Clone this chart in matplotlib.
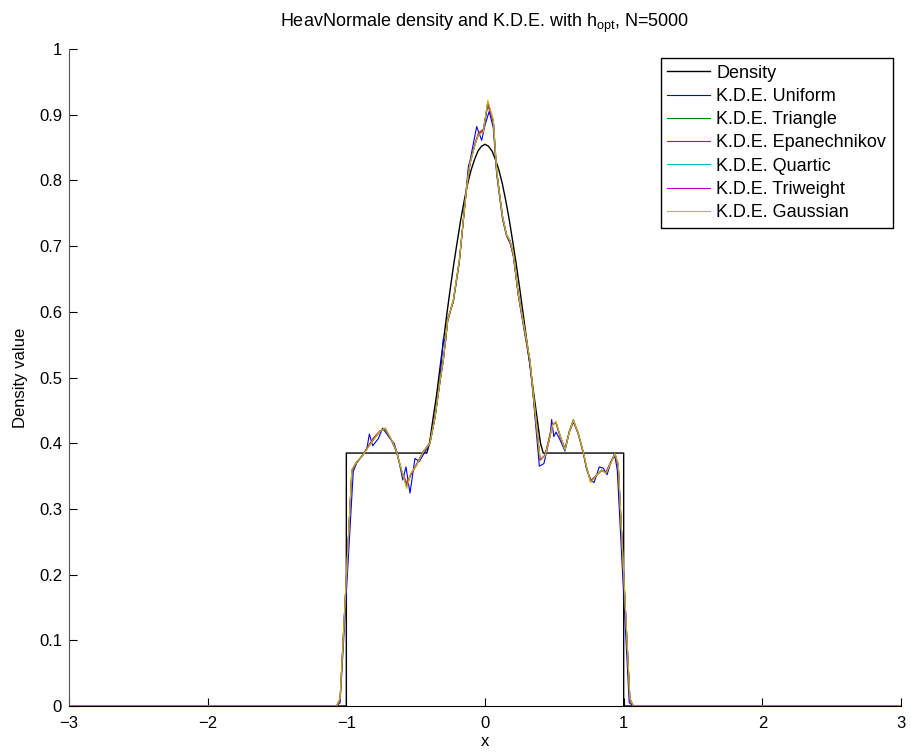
import matplotlib.pyplot as plt

plt.rcParams['font.family'] = ['Liberation Sans', 'DejaVu Sans']
plt.rcParams['mathtext.default'] = 'regular'

# true density
dens_x = [-3.0, -1.0, -1.0, -0.42, -0.40, -0.375, -0.35, -0.325, -0.30, -0.275, -0.25, -0.225,
          -0.20, -0.175, -0.15, -0.125, -0.10, -0.075, -0.05, -0.025, 0.0,
          0.025, 0.05, 0.075, 0.10, 0.125, 0.15, 0.175, 0.20, 0.225, 0.25, 0.275, 0.30,
          0.325, 0.35, 0.375, 0.40, 0.42, 1.0, 1.0, 3.0]
dens_y = [0, 0, 0.385, 0.385, 0.40, 0.437, 0.472, 0.514, 0.555, 0.597, 0.636, 0.673,
          0.707, 0.740, 0.769, 0.795, 0.816, 0.832, 0.845, 0.852, 0.855,
          0.852, 0.845, 0.832, 0.816, 0.795, 0.769, 0.740, 0.707, 0.673, 0.636, 0.597, 0.558,
          0.518, 0.478, 0.439, 0.40, 0.385, 0.385, 0, 0]

# common grid for the smooth kernels
grid_x = [-3.0, -1.07, -1.045, -0.96, -0.925, -0.889, -0.853, -0.805, -0.757, -0.719, -0.673,
          -0.637, -0.601, -0.565, -0.536, -0.492, -0.445, -0.397, -0.360, -0.324, -0.300,
          -0.269, -0.228, -0.185, -0.156, -0.132, -0.108, -0.072, -0.048, -0.012, 0.02, 0.06,
          0.084, 0.108, 0.127, 0.156, 0.18, 0.204, 0.24, 0.28, 0.324, 0.348, 0.373, 0.397,
          0.433, 0.469, 0.488, 0.512, 0.541, 0.577, 0.608, 0.637, 0.673, 0.709, 0.733, 0.762,
          0.805, 0.841, 0.872, 0.906, 0.937, 0.961, 1.045, 1.07, 3.0]

gauss_y = [0, 0, 0.012, 0.360, 0.372, 0.379, 0.390, 0.405, 0.418, 0.423, 0.405,
           0.387, 0.359, 0.331, 0.354, 0.367, 0.387, 0.400, 0.440, 0.496, 0.527,
           0.588, 0.618, 0.679, 0.740, 0.790, 0.826, 0.854, 0.869, 0.874, 0.922, 0.892,
           0.816, 0.775, 0.745, 0.717, 0.709, 0.689, 0.628, 0.580, 0.527, 0.476, 0.425, 0.377,
           0.380, 0.410, 0.428, 0.433, 0.412, 0.390, 0.417, 0.435, 0.415, 0.387, 0.364, 0.340,
           0.352, 0.359, 0.354, 0.369, 0.384, 0.369, 0.012, 0, 0]

tri_y = [0, 0, 0.010, 0.358, 0.371, 0.380, 0.391, 0.406, 0.418, 0.422, 0.404,
         0.386, 0.356, 0.335, 0.352, 0.368, 0.387, 0.400, 0.440, 0.494, 0.527,
         0.586, 0.618, 0.678, 0.739, 0.790, 0.826, 0.855, 0.870, 0.876, 0.916, 0.890,
         0.814, 0.774, 0.744, 0.716, 0.708, 0.688, 0.627, 0.579, 0.526, 0.474, 0.422, 0.375,
         0.381, 0.412, 0.428, 0.432, 0.411, 0.391, 0.418, 0.436, 0.414, 0.386, 0.362, 0.342,
         0.351, 0.359, 0.355, 0.370, 0.385, 0.365, 0.010, 0, 0]

epan_y = [0, 0, 0.010, 0.358, 0.371, 0.380, 0.392, 0.408, 0.419, 0.421, 0.404,
          0.386, 0.357, 0.340, 0.351, 0.369, 0.387, 0.401, 0.441, 0.495, 0.528,
          0.586, 0.617, 0.677, 0.739, 0.791, 0.827, 0.856, 0.872, 0.878, 0.915, 0.889,
          0.813, 0.774, 0.743, 0.716, 0.707, 0.687, 0.626, 0.578, 0.525, 0.473, 0.420, 0.374,
          0.382, 0.414, 0.430, 0.430, 0.410, 0.392, 0.418, 0.434, 0.413, 0.385, 0.361, 0.343,
          0.352, 0.358, 0.356, 0.371, 0.384, 0.363, 0.009, 0, 0]

quart_y = [0, 0, 0.011, 0.359, 0.372, 0.380, 0.391, 0.406, 0.418, 0.422, 0.404,
           0.386, 0.357, 0.336, 0.352, 0.368, 0.387, 0.400, 0.440, 0.495, 0.527,
           0.587, 0.618, 0.678, 0.740, 0.790, 0.826, 0.855, 0.870, 0.875, 0.918, 0.891,
           0.815, 0.775, 0.744, 0.716, 0.708, 0.688, 0.627, 0.579, 0.526, 0.475, 0.423, 0.376,
           0.381, 0.411, 0.428, 0.432, 0.411, 0.391, 0.417, 0.435, 0.414, 0.386, 0.363, 0.341,
           0.352, 0.359, 0.355, 0.370, 0.384, 0.366, 0.011, 0, 0]

triw_y = [0, 0, 0.011, 0.359, 0.372, 0.379, 0.391, 0.405, 0.418, 0.423, 0.404,
          0.387, 0.358, 0.334, 0.353, 0.367, 0.387, 0.400, 0.440, 0.495, 0.527,
          0.587, 0.618, 0.679, 0.740, 0.790, 0.826, 0.855, 0.870, 0.875, 0.919, 0.891,
          0.815, 0.775, 0.745, 0.717, 0.708, 0.688, 0.628, 0.579, 0.526, 0.475, 0.424, 0.376,
          0.381, 0.411, 0.428, 0.432, 0.412, 0.391, 0.417, 0.435, 0.415, 0.386, 0.363, 0.341,
          0.352, 0.359, 0.355, 0.370, 0.384, 0.367, 0.011, 0, 0]

# uniform kernel is noisier, own points
unif_x = [-3.0, -1.07, -1.045, -0.95, -0.925, -0.889, -0.853, -0.834, -0.81, -0.769, -0.738,
          -0.685, -0.656, -0.632, -0.593, -0.570, -0.541, -0.505, -0.474, -0.433, -0.397,
          -0.360, -0.324, -0.300, -0.285, -0.269, -0.228, -0.185, -0.156, -0.12, -0.108,
          -0.06, -0.024, 0.0, 0.03, 0.06, 0.084, 0.108, 0.127, 0.156, 0.18, 0.204, 0.24, 0.28,
          0.324, 0.348, 0.373, 0.392, 0.425, 0.469, 0.481, 0.496, 0.512, 0.541, 0.577, 0.608,
          0.637, 0.673, 0.709, 0.733, 0.762, 0.786, 0.824, 0.853, 0.88, 0.913, 0.937, 0.954,
          1.04, 1.07, 3.0]
unif_y = [0, 0, 0.005, 0.357, 0.370, 0.380, 0.390, 0.414, 0.396, 0.407, 0.423,
          0.407, 0.400, 0.385, 0.344, 0.364, 0.324, 0.377, 0.372, 0.387, 0.400,
          0.440, 0.500, 0.560, 0.553, 0.590, 0.615, 0.675, 0.740, 0.821, 0.830,
          0.882, 0.861, 0.884, 0.905, 0.880, 0.810, 0.770, 0.740, 0.715, 0.705, 0.685, 0.625, 0.575,
          0.520, 0.470, 0.410, 0.365, 0.369, 0.410, 0.436, 0.410, 0.417, 0.405, 0.388, 0.417,
          0.432, 0.415, 0.385, 0.360, 0.345, 0.340, 0.364, 0.362, 0.352, 0.374, 0.380, 0.359,
          0.005, 0, 0]

fig = plt.figure(figsize=(9.11, 7.53), dpi=100)
ax = fig.add_axes([69 / 911, 1 - 706 / 753, 832 / 911, 657 / 753])

ax.plot(dens_x, dens_y, color='k', lw=1.0, label='Density')
ax.plot(unif_x, unif_y, color=(0, 0, 1), lw=0.8, label='K.D.E. Uniform')
ax.plot(grid_x, tri_y, color=(0, 0.5, 0), lw=0.8, label='K.D.E. Triangle')
ax.plot(grid_x, epan_y, color=(1, 0, 0), lw=0.8, label='K.D.E. Epanechnikov')
ax.plot(grid_x, quart_y, color=(0, 0.75, 0.75), lw=0.8, label='K.D.E. Quartic')
ax.plot(grid_x, triw_y, color=(0.75, 0, 0.75), lw=0.8, label='K.D.E. Triweight')
ax.plot(grid_x, gauss_y, color=(0.75, 0.75, 0), lw=0.8, label='K.D.E. Gaussian')

ax.set_xlim(-3, 3)
ax.set_ylim(0, 1)
ax.set_xticks([-3, -2, -1, 0, 1, 2, 3])
ax.set_xticklabels(['\u22123', '\u22122', '\u22121', '0', '1', '2', '3'])
ax.set_yticks([i / 10 for i in range(11)])
ax.set_yticklabels(['0', '0.1', '0.2', '0.3', '0.4', '0.5', '0.6', '0.7', '0.8', '0.9', '1'])
ax.tick_params(direction='in', length=6, labelsize=12)
ax.tick_params(axis='x', pad=7)
ax.tick_params(axis='y', pad=5)
ax.spines['top'].set_visible(False)
ax.spines['right'].set_visible(False)
ax.spines['left'].set_color('#555555')

ax.set_xlabel('x', fontsize=12, labelpad=2)
ax.set_ylabel('Density value', fontsize=12, labelpad=8)
ax.set_title('HeavNormale density and K.D.E. with h$_{opt}$, N=5000', fontsize=13, pad=16)

leg = ax.legend(loc='upper right', bbox_to_anchor=(0.99, 0.986), borderaxespad=0,
                fancybox=False, framealpha=1, edgecolor='k', fontsize=13,
                handlelength=2.4, handletextpad=0.35, labelspacing=0.35, borderpad=0.35)
leg.get_frame().set_linewidth(1.0)

fig.savefig('out.png', dpi=100)
